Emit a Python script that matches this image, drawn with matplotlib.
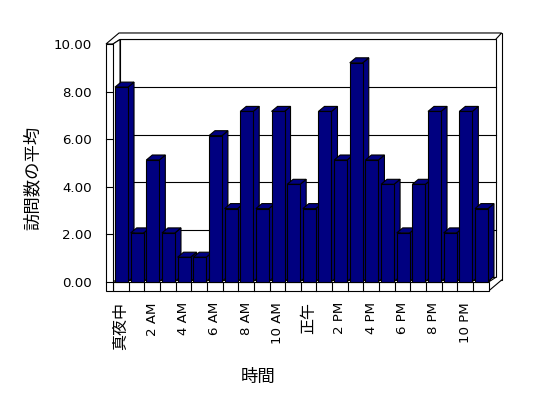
import matplotlib
matplotlib.use('Agg')
import matplotlib.pyplot as plt
from matplotlib.patches import Polygon, Rectangle
import numpy as np

# ---- data ----
values = [8, 2, 5, 2, 1, 1, 6, 3, 7, 3, 7, 4, 3, 7, 5, 9, 5, 4, 2, 4, 7, 2, 7, 3]
tick_labels = ['真夜中', '2 AM', '4 AM', '6 AM', '8 AM', '10 AM', '正午',
               '2 PM', '4 PM', '6 PM', '8 PM', '10 PM']
y_ticks = [0, 2, 4, 6, 8, 10]
y_label = '訪問数の平均'
x_label = '時間'

plt.rcParams['font.family'] = ['DejaVu Sans', 'Noto Sans CJK JP']
CJK = ['Noto Sans CJK JP', 'DejaVu Sans']
NAVY = '#000080'
LW = 0.8

W, H = 548, 398
fig = plt.figure(figsize=(W / 100, H / 100), dpi=100)
fig.patch.set_facecolor('white')


def pos(l, r, t, b):
    return [l / W, 1 - b / H, (r - l) / W, (b - t) / H]


ax = fig.add_axes(pos(100, 510, 25, 300))
ax.set_xlim(-0.8307, 25.367)
ax.set_ylim(-0.7563, 10.798)
ax.patch.set_visible(False)
for s in ax.spines.values():
    s.set_visible(False)

axb = fig.add_axes(pos(100, 510, 25, 300))
axb.set_xlim(-0.8307, 25.367)
axb.set_ylim(-0.7613, 10.556)
axb.axis('off')
axb.patch.set_visible(False)


def off(a, dxp, dyp):
    inv = a.transData.inverted()
    p0 = inv.transform((0, 0))
    p1 = inv.transform((dxp, dyp))
    return p1 - p0


n = len(values)
ymax = float(y_ticks[-1])
D1x, D1y = off(ax, 7, 4.5)
D2x, D2y = off(ax, 13, 11)
Wt = off(ax, 7, 0)[0]
fb = off(ax, 0, -9)[1]

kw = dict(facecolor='white', edgecolor='black', lw=LW)
# back wall (outer and inner faces)
ax.add_patch(Rectangle((D2x - Wt, fb + D2y), n + Wt, ymax - fb, zorder=1, **kw))
ax.add_patch(Rectangle((D1x, D1y), n, ymax, zorder=2, **kw))
for v in y_ticks[1:-1]:
    ax.plot([D1x, n + D1x], [v + D1y, v + D1y], color='black', lw=LW, zorder=3)
# top of walls
ax.add_patch(Polygon([(-Wt, ymax), (0, ymax), (D1x, ymax + D1y), (n + D1x, ymax + D1y),
                      (n + D2x, ymax + D2y), (-Wt + D2x, ymax + D2y)], zorder=3, **kw))
# left wall inner face
ax.add_patch(Polygon([(0, 0), (D1x, D1y), (D1x, ymax + D1y), (0, ymax)], zorder=3, **kw))
# floor right side
ax.add_patch(Polygon([(n, fb), (n, 0), (n + D1x, D1y), (n + D2x, fb + D2y)],
                     facecolor='white', edgecolor='none', zorder=3))
ax.plot([n, n + D1x], [0, D1y], color='black', lw=LW, zorder=3.5)
ax.plot([n, n + D2x], [fb, fb + D2y], color='black', lw=LW, zorder=3.5)
# floor front face
ax.add_patch(Rectangle((0, fb), n, -fb, zorder=4, **kw))
for k in range(1, n):
    ax.plot([k, k], [fb, 0], color='black', lw=LW, zorder=4.5)
# left wall front face
ax.add_patch(Rectangle((-Wt, fb), Wt, ymax - fb, zorder=4, **kw))
for v in y_ticks[:-1]:
    ax.plot([-Wt, 0], [v, v], color='black', lw=LW, zorder=4.5)

# ---- bars ----
bdx, bdy = off(axb, 6, 5)
left0, bw = 0.13, 0.83
lefts = np.arange(n) + left0
for i, v in enumerate(values):
    L = lefts[i]
    R = L + bw
    axb.add_patch(Polygon([(R, 0), (R + bdx, bdy), (R + bdx, v + bdy), (R, v)],
                          facecolor=NAVY, edgecolor='black', lw=LW, zorder=5 + i * 0.01))
    axb.add_patch(Polygon([(L, v), (R, v), (R + bdx, v + bdy), (L + bdx, v + bdy)],
                          facecolor=NAVY, edgecolor='black', lw=LW, zorder=5 + i * 0.01 + 0.005))
axb.bar(lefts, values, width=bw, align='edge', color=NAVY, edgecolor='black',
        linewidth=LW, zorder=7)

# ---- ticks and labels ----
ax.set_xticks([i + 0.5 for i in range(0, n, 2)])
ax.set_xticklabels(tick_labels, rotation=90, va='top', ha='center', fontsize=9.6)
for t in ax.get_xticklabels():
    if any(ord(c) > 0x2E80 for c in t.get_text()):
        t.set_fontfamily(CJK)
        t.set_fontsize(11.5)
ax.tick_params(axis='x', length=0, pad=1.5)
ax.set_yticks(y_ticks)
ax.set_yticklabels([f'{v:.2f}' for v in y_ticks], fontsize=9.6)
ax.tick_params(axis='y', length=0, pad=5.8)

fig.text(33 / W, 1 - 178 / H, y_label, rotation=90, ha='center', va='center',
         fontsize=12.5, family=CJK)
fig.text(258 / W, 1 - 377 / H, x_label, ha='center', va='center',
         fontsize=12.5, family=CJK)

fig.savefig('out.png', dpi=100)
